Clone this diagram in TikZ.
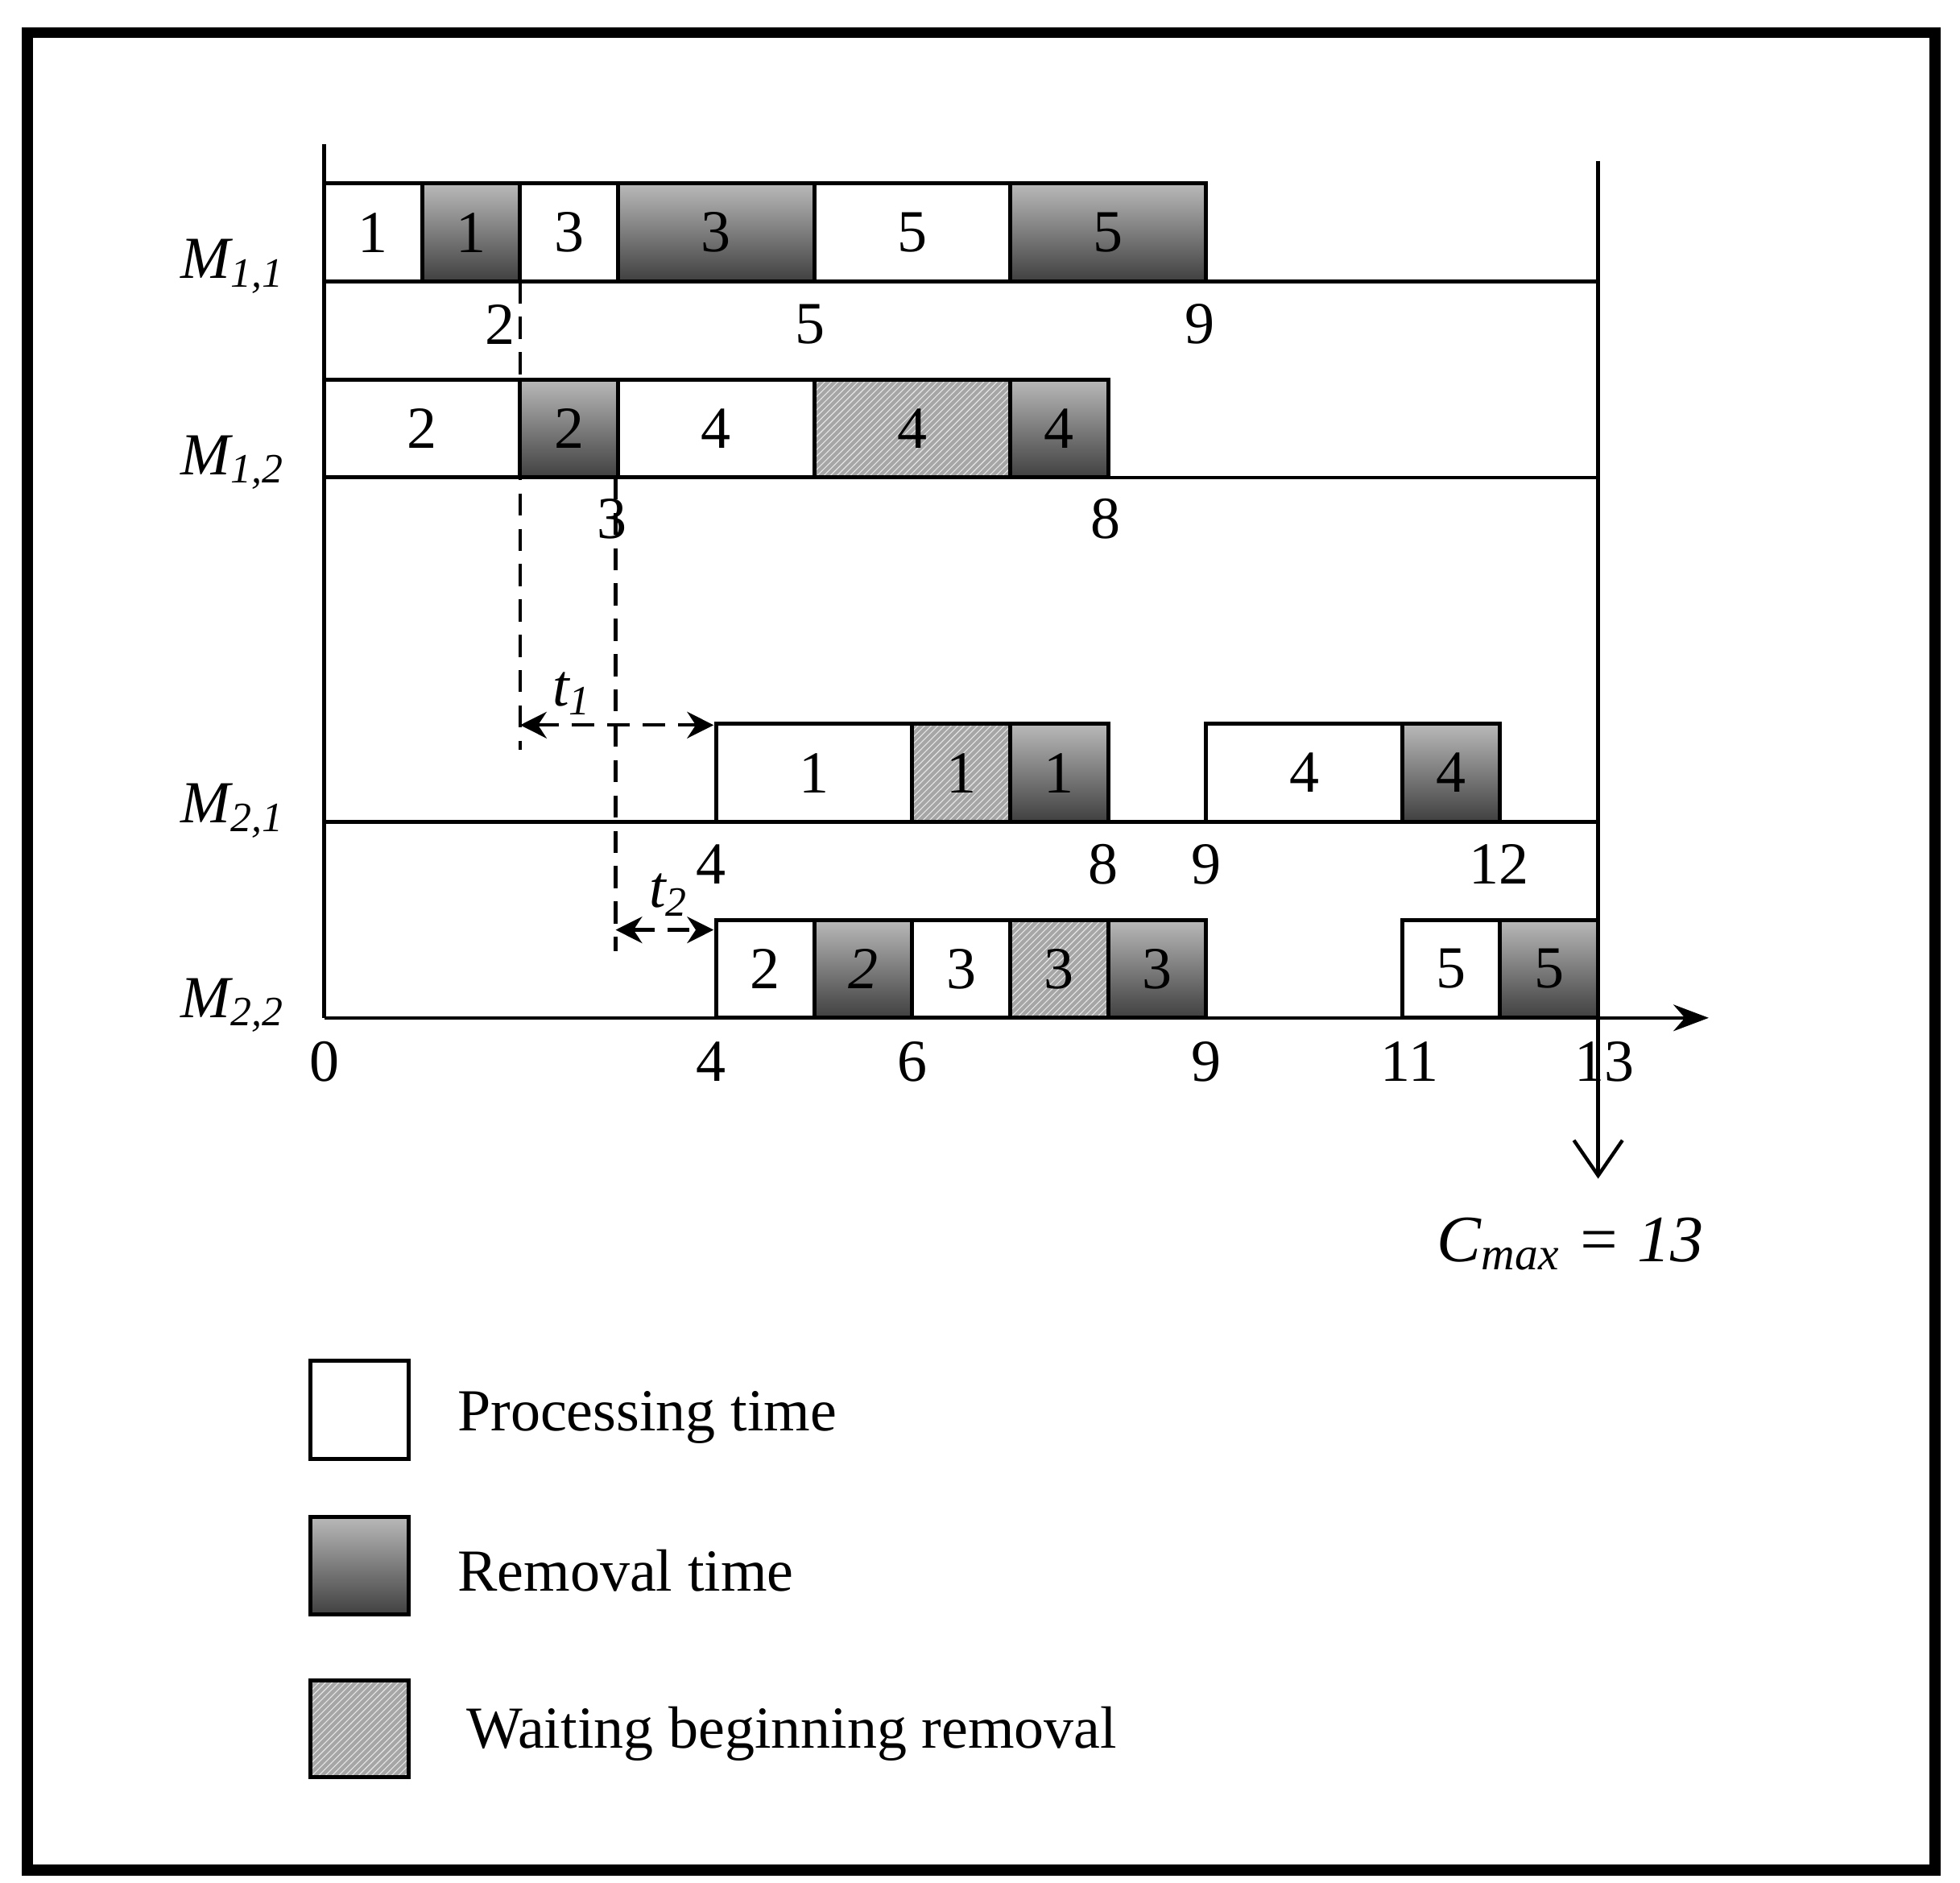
\documentclass[tikz,border=0pt]{standalone}
\usepackage{fontspec}
\setmainfont{Liberation Serif}
\usetikzlibrary{patterns,arrows.meta}
\begin{document}
\begin{tikzpicture}[x=0.02cm,y=-0.02cm,
  font=\fontsize{27}{30}\selectfont,
  bx/.style={draw,line width=1.8pt},
  proc/.style={bx,fill=white},
  rem/.style={bx,top color=gray!55,bottom color=black!75},
  wait/.style={bx,preaction={fill=gray!70},pattern=north east lines,pattern color=gray!20},
  ax/.style={line width=1.6pt},
  dsh/.style={line width=1.6pt,dash pattern=on 10pt off 6pt},
  lab/.style={font=\fontsize{27}{30}\selectfont\itshape}]
\useasboundingbox (0,0) rectangle (1560,1498);
\draw[line width=5pt] (22,26) rectangle (1540,1488);
\newcommand\myjob[6]{%
  \pgfmathsetmacro\xa{258+78*#2}%
  \pgfmathsetmacro\xb{258+78*(#2+#3)}%
  \pgfmathsetmacro\ya{#4-78}%
  \pgfmathsetmacro\xm{(\xa+\xb)/2}%
  \pgfmathsetmacro\ym{#4-39}%
  \path[#1] (\xa,\ya) rectangle (\xb,#4);
  \node (#6) at (\xm,\ym) {#5};}
% axes
\coordinate (yt) at (258,115); \coordinate (o) at (258,810); \coordinate (xe) at (1360,810);
\draw[ax] (yt) -- (o);
\draw[ax,-{Stealth[length=16pt,width=12pt]}] (o) -- (xe);
\coordinate (a1) at (258,224); \coordinate (b1) at (1272,224);
\coordinate (a2) at (258,380); \coordinate (b2) at (1272,380);
\coordinate (a3) at (258,654); \coordinate (b3) at (1272,654);
\draw[ax] (a1)--(b1) (a2)--(b2) (a3)--(b3);
\coordinate (ct) at (1272,128); \coordinate (cb) at (1272,938);
\draw[ax,-{Straight Barb[length=16pt,width=22pt,line width=1.6pt]}] (ct) -- (cb);
% M11
\myjob{proc}{0}{1}{224}{1}{p11}
\myjob{rem}{1}{1}{224}{1}{r11}
\myjob{proc}{2}{1}{224}{3}{p13}
\myjob{rem}{3}{2}{224}{3}{r13}
\myjob{proc}{5}{2}{224}{5}{p15}
\myjob{rem}{7}{2}{224}{5}{r15}
% M12
\myjob{proc}{0}{2}{380}{2}{q12}
\myjob{rem}{2}{1}{380}{2}{s12}
\myjob{proc}{3}{2}{380}{4}{q14}
\myjob{wait}{5}{2}{380}{4}{w14}
\myjob{rem}{7}{1}{380}{4}{s14}
% M21
\myjob{proc}{4}{2}{654}{1}{u11}
\myjob{wait}{6}{1}{654}{1}{v11}
\myjob{rem}{7}{1}{654}{1}{x11}
\myjob{proc}{9}{2}{654}{4}{u14}
\myjob{rem}{11}{1}{654}{4}{x14}
% M22
\myjob{proc}{4}{1}{810}{2}{g2}
\myjob{rem}{5}{1}{810}{\textit{2}}{h2}
\myjob{proc}{6}{1}{810}{3}{g3}
\myjob{wait}{7}{1}{810}{3}{k3}
\myjob{rem}{8}{1}{810}{3}{h3}
\myjob{proc}{11}{1}{810}{5}{g5}
\myjob{rem}{12}{1}{810}{5}{h5}
% dashed
\coordinate (d1t) at (414,224); \coordinate (d1b) at (414,597);
\coordinate (d2t) at (490,380); \coordinate (d2b) at (490,757);
\draw[dsh] (d1t)--(d1b); \draw[dsh] (d2t)--(d2b);
\coordinate (t1a) at (414,577); \coordinate (t1b) at (568,577);
\coordinate (t2a) at (490,740); \coordinate (t2b) at (568,740);
\draw[dsh,{Stealth[length=12pt,width=12pt]}-{Stealth[length=12pt,width=12pt]}] (t1a)--(t1b);
\draw[dsh,{Stealth[length=12pt,width=12pt]}-{Stealth[length=12pt,width=12pt]}] (t2a)--(t2b);
\node[lab] (tl1) at (455,552) {t\textsubscript{1}};
\node[lab] (tl2) at (532,712) {t\textsubscript{2}};
% tick labels
\foreach \t/\xx/\yy in {2/398/258,5/645/258,9/955/258,3/487/413,8/880/413,
  4/566/688,8/878/688,9/960/688,12/1193/688,
  0/258/845,4/566/845,6/726/845,9/960/845,11/1122/845,13/1277/845}
  \node (n\xx-\yy) at (\xx,\yy) {\t};
% machine labels
\node[lab] (m11) at (185,212) {M\textsubscript{1,1}};
\node[lab] (m12) at (185,368) {M\textsubscript{1,2}};
\node[lab] (m21) at (185,645) {M\textsubscript{2,1}};
\node[lab] (m22) at (185,800) {M\textsubscript{2,2}};
\node[lab,font=\fontsize{30}{32}\selectfont\itshape] (cm) at (1250,990) {C\textsubscript{max} = 13};
% legend
\path[proc] (247,1083) rectangle (325,1161);
\path[rem] (247,1207) rectangle (325,1285);
\path[wait] (247,1337) rectangle (325,1414);
\node[anchor=west] (lt1) at (358,1128) {Processing time};
\node[anchor=west] (lt2) at (358,1250) {Removal time};
\node[anchor=west] (lt3) at (365,1380) {Waiting beginning removal};
\end{tikzpicture}
\end{document}
